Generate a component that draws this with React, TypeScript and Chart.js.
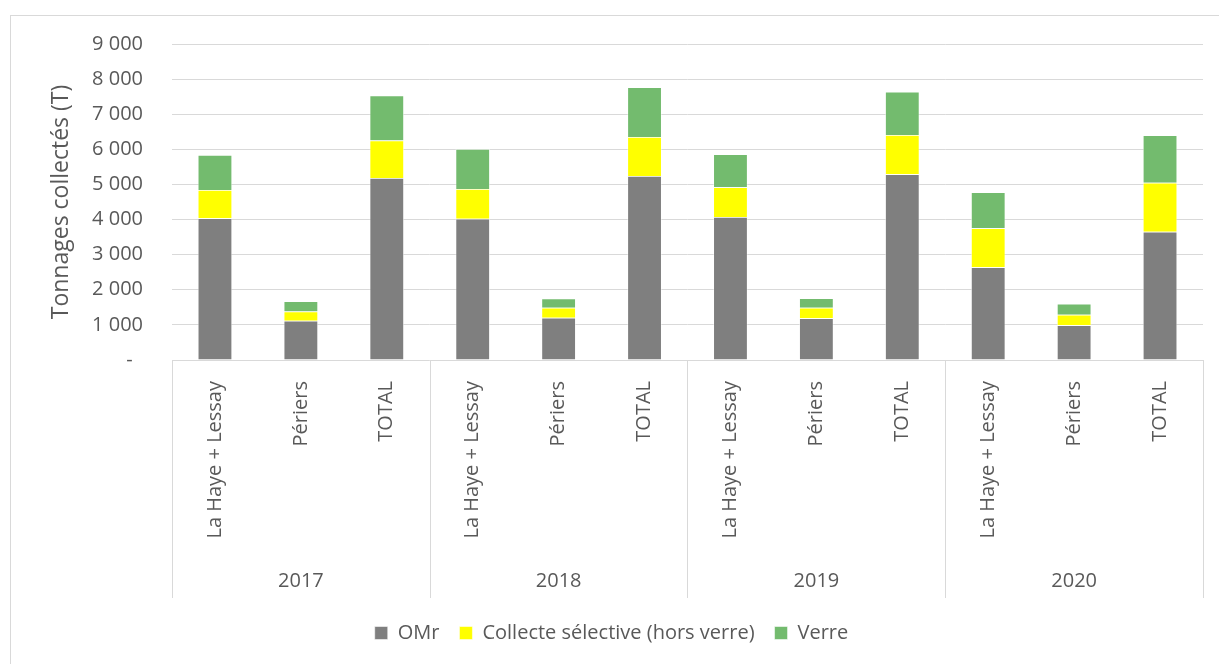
import React, { useEffect, useRef } from "react";
import { Chart, registerables } from "chart.js";

Chart.register(...registerables);

const years = ["2017", "2018", "2019", "2020"];
const sites = ["La Haye + Lessay", "Périers", "TOTAL"];
const categories = years.flatMap(() => sites);

const omr = [4040, 1120, 5180, 4020, 1200, 5240, 4070, 1190, 5290, 2640, 990, 3650];
const collecteSelective = [800, 260, 1070, 850, 290, 1110, 850, 300, 1120, 1110, 300, 1400];
const verre = [1000, 290, 1280, 1140, 260, 1420, 940, 270, 1230, 1030, 310, 1350];

const seriesNames = ["OMr", "Collecte sélective (hors verre)", "Verre"];
const seriesColors = ["#7F7F7F", "#FFFF00", "#73BB6E"];

const FONT = "'Open Sans', 'DejaVu Sans', sans-serif";
const TEXT = "#595959";
const GRID = "#D9D9D9";

const fmt = (v: number) => {
  if (v === 0) return "-  ";
  return String(Math.round(v)).replace(/\B(?=(\d{3})+(?!\d))/g, " ");
};

const decorPlugin = {
  id: "decor",
  beforeDraw(chart: any) {
    const { ctx } = chart;
    ctx.save();
    ctx.fillStyle = "#ffffff";
    ctx.fillRect(0, 0, chart.width, chart.height);
    ctx.strokeStyle = GRID;
    ctx.lineWidth = 1;
    ctx.strokeRect(10.5, 15.5, 1400, 1000);
    ctx.restore();
  },
  afterDraw(chart: any) {
    const { ctx, chartArea } = chart;
    const x = chart.scales.x;
    const half = (x.getPixelForValue(1) - x.getPixelForValue(0)) / 2;
    const sepBottom = chartArea.bottom + 238;
    ctx.save();
    ctx.strokeStyle = GRID;
    ctx.lineWidth = 1;
    for (let g = 0; g <= years.length; g++) {
      const idx = g * sites.length;
      const px = Math.round(x.getPixelForValue(idx) - half) + 0.5;
      ctx.beginPath();
      ctx.moveTo(px, chartArea.bottom);
      ctx.lineTo(px, sepBottom);
      ctx.stroke();
    }
    ctx.fillStyle = TEXT;
    ctx.font = `20px ${FONT}`;
    ctx.textAlign = "center";
    ctx.textBaseline = "middle";
    years.forEach((y, g) => {
      const a = x.getPixelForValue(g * sites.length) - half;
      const b = x.getPixelForValue(g * sites.length + sites.length - 1) + half;
      ctx.fillText(y, (a + b) / 2, chartArea.bottom + 221);
    });
    ctx.restore();
  },
};

export default function App() {
  const ref = useRef<HTMLCanvasElement | null>(null);

  useEffect(() => {
    if (!ref.current) return;
    const data = [omr, collecteSelective, verre];
    const chart = new Chart(ref.current, {
      type: "bar",
      data: {
        labels: categories,
        datasets: seriesNames.map((name, i) => ({
          label: name,
          data: data[i],
          backgroundColor: seriesColors[i],
          borderColor: "rgba(255,255,255,0.7)",
          borderWidth: 0.75,
          barPercentage: 0.4,
          categoryPercentage: 1,
        })),
      },
      options: {
        responsive: false,
        animation: false,
        layout: { padding: { left: 20, right: 16, top: 44, bottom: 11 } },
        plugins: {
          tooltip: { enabled: false },
          legend: {
            position: "bottom",
            labels: {
              boxWidth: 13,
              boxHeight: 13,
              padding: 20,
              color: TEXT,
              font: { family: FONT, size: 20 },
            },
          },
        },
        scales: {
          x: {
            stacked: true,
            grid: { display: false, drawTicks: false },
            border: { display: false },
            ticks: {
              autoSkip: false,
              minRotation: 90,
              maxRotation: 90,
              padding: 21,
              color: TEXT,
              font: { family: FONT, size: 20 },
            },
            afterFit: (scale: any) => {
              scale.height = 243;
            },
          },
          y: {
            stacked: true,
            min: 0,
            max: 9000,
            grid: { color: GRID, lineWidth: 1, drawTicks: false },
            border: { display: false },
            ticks: {
              stepSize: 1000,
              padding: 29,
              color: TEXT,
              font: { family: FONT, size: 20 },
              callback: (v: any) => fmt(Number(v)),
            },
            title: {
              display: true,
              text: "Tonnages collectés (T)",
              color: TEXT,
              font: { family: FONT, size: 23 },
              padding: { top: 28, bottom: 0 },
            },
            afterFit: (scale: any) => {
              scale.width = 152;
            },
          },
        },
      },
      plugins: [decorPlugin],
    });
    return () => chart.destroy();
  }, []);

  return (
    <div style={{ position: "fixed", left: 0, top: 0, width: 1219, height: 664, background: "#fff" }}>
      <canvas ref={ref} width={1219} height={664} style={{ display: "block" }} />
    </div>
  );
}
